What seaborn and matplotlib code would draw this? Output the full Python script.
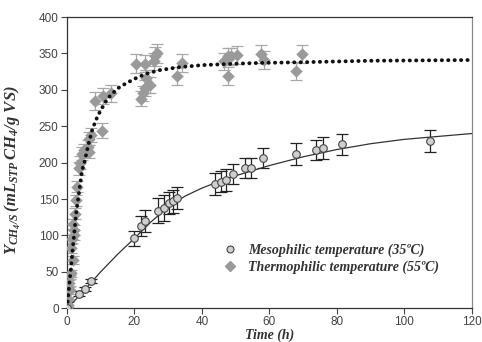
import matplotlib

matplotlib.use("Agg")

import matplotlib.pyplot as plt
import pandas as pd
import seaborn as sns
from matplotlib.lines import Line2D

# measured points, mesophilic (35 C)
meso_time = [0, 3.5, 5.2, 7.0, 20.0, 21.9, 23.2, 26.9, 28.8, 30.3, 31.5, 32.6,
             43.9, 45.6, 47.1, 49.3, 52.8, 54.5, 58.0, 67.9, 73.8, 76.0, 81.4, 107.6]
meso_yield = [0, 20, 26, 37, 96, 113, 120, 134, 138, 144, 147, 151,
              171, 174, 176, 184, 193, 193, 206, 212, 217, 220, 225, 230]
meso_err = [0, 3, 3, 3, 10, 14, 15, 17, 18, 15, 16, 15,
            15, 14, 15, 14, 14, 14, 14, 15, 14, 15, 15, 15]

# measured points, thermophilic (55 C)
thermo_time = [0, 0.3, 0.4, 0.7, 0.8, 1.0, 1.1, 1.3, 1.5, 1.9, 1.9, 2.0, 2.2, 2.5,
               2.7, 3.1, 3.6, 4.0, 4.4, 5.1, 6.1, 6.4, 6.6, 7.2, 8.3, 10.4, 10.6,
               13.0, 20.4, 21.9, 22.6, 23.1, 23.2, 23.4, 23.9, 24.6, 25.9, 26.1,
               26.8, 32.5, 34.0, 46.6, 47.6, 47.6, 48.6, 50.5, 57.5, 58.5, 68.0, 69.6]
thermo_yield = [0, 5, 12, 34, 45, 25, 48, 82, 95, 66, 116, 100, 107, 130,
                148, 167, 192, 200, 212, 217, 222, 233, 215, 238, 285, 244, 291,
                295, 336, 288, 295, 336, 302, 316, 306, 306, 339, 346,
                350, 319, 337, 339, 319, 346, 346, 348, 349, 341, 326, 349]
thermo_err = [0, 3, 4, 5, 5, 5, 5, 6, 6, 6, 7, 7, 7, 8,
              8, 8, 9, 9, 9, 9, 9, 9, 9, 10, 12, 10, 11,
              12, 13, 10, 10, 12, 11, 11, 11, 11, 12, 13,
              13, 12, 12, 12, 12, 12, 12, 12, 12, 12, 12, 12]

# model curves
meso_fit_time = [0, 2, 5, 10, 15, 20, 25, 30, 35, 40, 45, 50, 60, 70, 80, 90, 100, 110, 120]
meso_fit_yield = [0, 9, 24, 50, 74, 96, 119, 139, 154, 165, 174, 182, 196, 208, 218, 226, 232, 236, 240]

thermo_fit_time = [0, 1.2, 2.7, 4.5, 5.1, 6.4, 7.6, 9, 10, 12, 15, 17.5, 20.4, 23.4,
                   27.3, 33, 40, 50, 57, 70, 90, 120]
thermo_fit_yield = [0, 57, 130, 190, 199, 226, 247, 263, 272, 288, 302, 309, 316, 322,
                    327, 331, 334, 336, 337, 338, 340, 341]

legend_labels = ["Mesophilic temperature (35ºC)", "Thermophilic temperature (55ºC)"]

sns.set_style("ticks")
plt.rcParams["font.family"] = ["Liberation Sans", "DejaVu Sans"]
plt.rcParams["mathtext.fontset"] = "custom"
plt.rcParams["mathtext.it"] = "Liberation Serif:italic:bold"
plt.rcParams["mathtext.rm"] = "Liberation Serif:italic:bold"
plt.rcParams["mathtext.bf"] = "Liberation Serif:italic:bold"

serif = dict(family="Liberation Serif", style="italic", weight="bold", color="#333333")

meso = pd.DataFrame({"t": meso_time, "y": meso_yield, "e": meso_err})
thermo = pd.DataFrame({"t": thermo_time, "y": thermo_yield, "e": thermo_err})
meso_fit = pd.DataFrame({"t": meso_fit_time, "y": meso_fit_yield})
thermo_fit = pd.DataFrame({"t": thermo_fit_time, "y": thermo_fit_yield})

fig = plt.figure(figsize=(4.82, 3.42), dpi=100)
ax = fig.add_axes([0.139, 0.099, 0.840, 0.851])

diamond_color = "#9a9a9a"
circle_fill = "#cfcfcf"

ax.errorbar(thermo["t"], thermo["y"], yerr=thermo["e"], fmt="none",
            ecolor="#a8a8a8", elinewidth=0.9, capsize=4, capthick=0.9, zorder=2)
ax.errorbar(meso["t"], meso["y"], yerr=meso["e"], fmt="none",
            ecolor="#222222", elinewidth=0.9, capsize=4, capthick=0.9, zorder=2)

sns.lineplot(data=meso_fit, x="t", y="y", ax=ax, color="#333333", linewidth=0.9,
             estimator=None, sort=False, zorder=3)
sns.scatterplot(data=thermo, x="t", y="y", ax=ax, marker="D", s=36,
                color=diamond_color, edgecolor=diamond_color, linewidth=0.3, zorder=4)
sns.lineplot(data=thermo_fit, x="t", y="y", ax=ax, color="#111111", linewidth=2.8,
             estimator=None, sort=False, zorder=5)
ax.lines[-1].set_linestyle((0, (0.05, 1.6)))
ax.lines[-1].set_dash_capstyle("round")
sns.scatterplot(data=meso, x="t", y="y", ax=ax, marker="o", s=30,
                color=circle_fill, edgecolor="#444444", linewidth=0.8, zorder=6)

ax.set_xlim(0, 120)
ax.set_ylim(0, 400)
ax.set_xticks(range(0, 121, 20))
ax.set_yticks(range(0, 401, 50))
ax.tick_params(axis="both", labelsize=8.5, colors="#444444", length=4, width=0.8,
               direction="out", pad=2)
for side in ["left", "bottom", "top"]:
    ax.spines[side].set_color("#333333")
    ax.spines[side].set_linewidth(0.9)
ax.spines["right"].set_color("#888888")
ax.spines["right"].set_linewidth(0.9)

ax.set_xlabel("Time (h)", fontsize=10, labelpad=0, **serif)
ax.set_ylabel(r"$Y_{CH_4/S}\,(mL_{STP}\,CH_4/g\ VS)$", fontsize=12, color="#333333")
ax.yaxis.set_label_coords(-0.108, 0.475)

handles = [
    Line2D([], [], linestyle="none", marker="o", markersize=5, markerfacecolor=circle_fill,
           markeredgecolor="#444444", markeredgewidth=0.8),
    Line2D([], [], linestyle="none", marker="D", markersize=5, markerfacecolor=diamond_color,
           markeredgecolor=diamond_color),
]
leg = ax.legend(handles, legend_labels, loc="upper left", bbox_to_anchor=(0.355, 0.265),
                frameon=False, handlelength=1.0, handletextpad=0.8, labelspacing=0.25,
                prop={"family": "Liberation Serif", "style": "italic", "weight": "bold",
                      "size": 10})
for text in leg.get_texts():
    text.set_color("#333333")

fig.savefig("out.png", dpi=100)
